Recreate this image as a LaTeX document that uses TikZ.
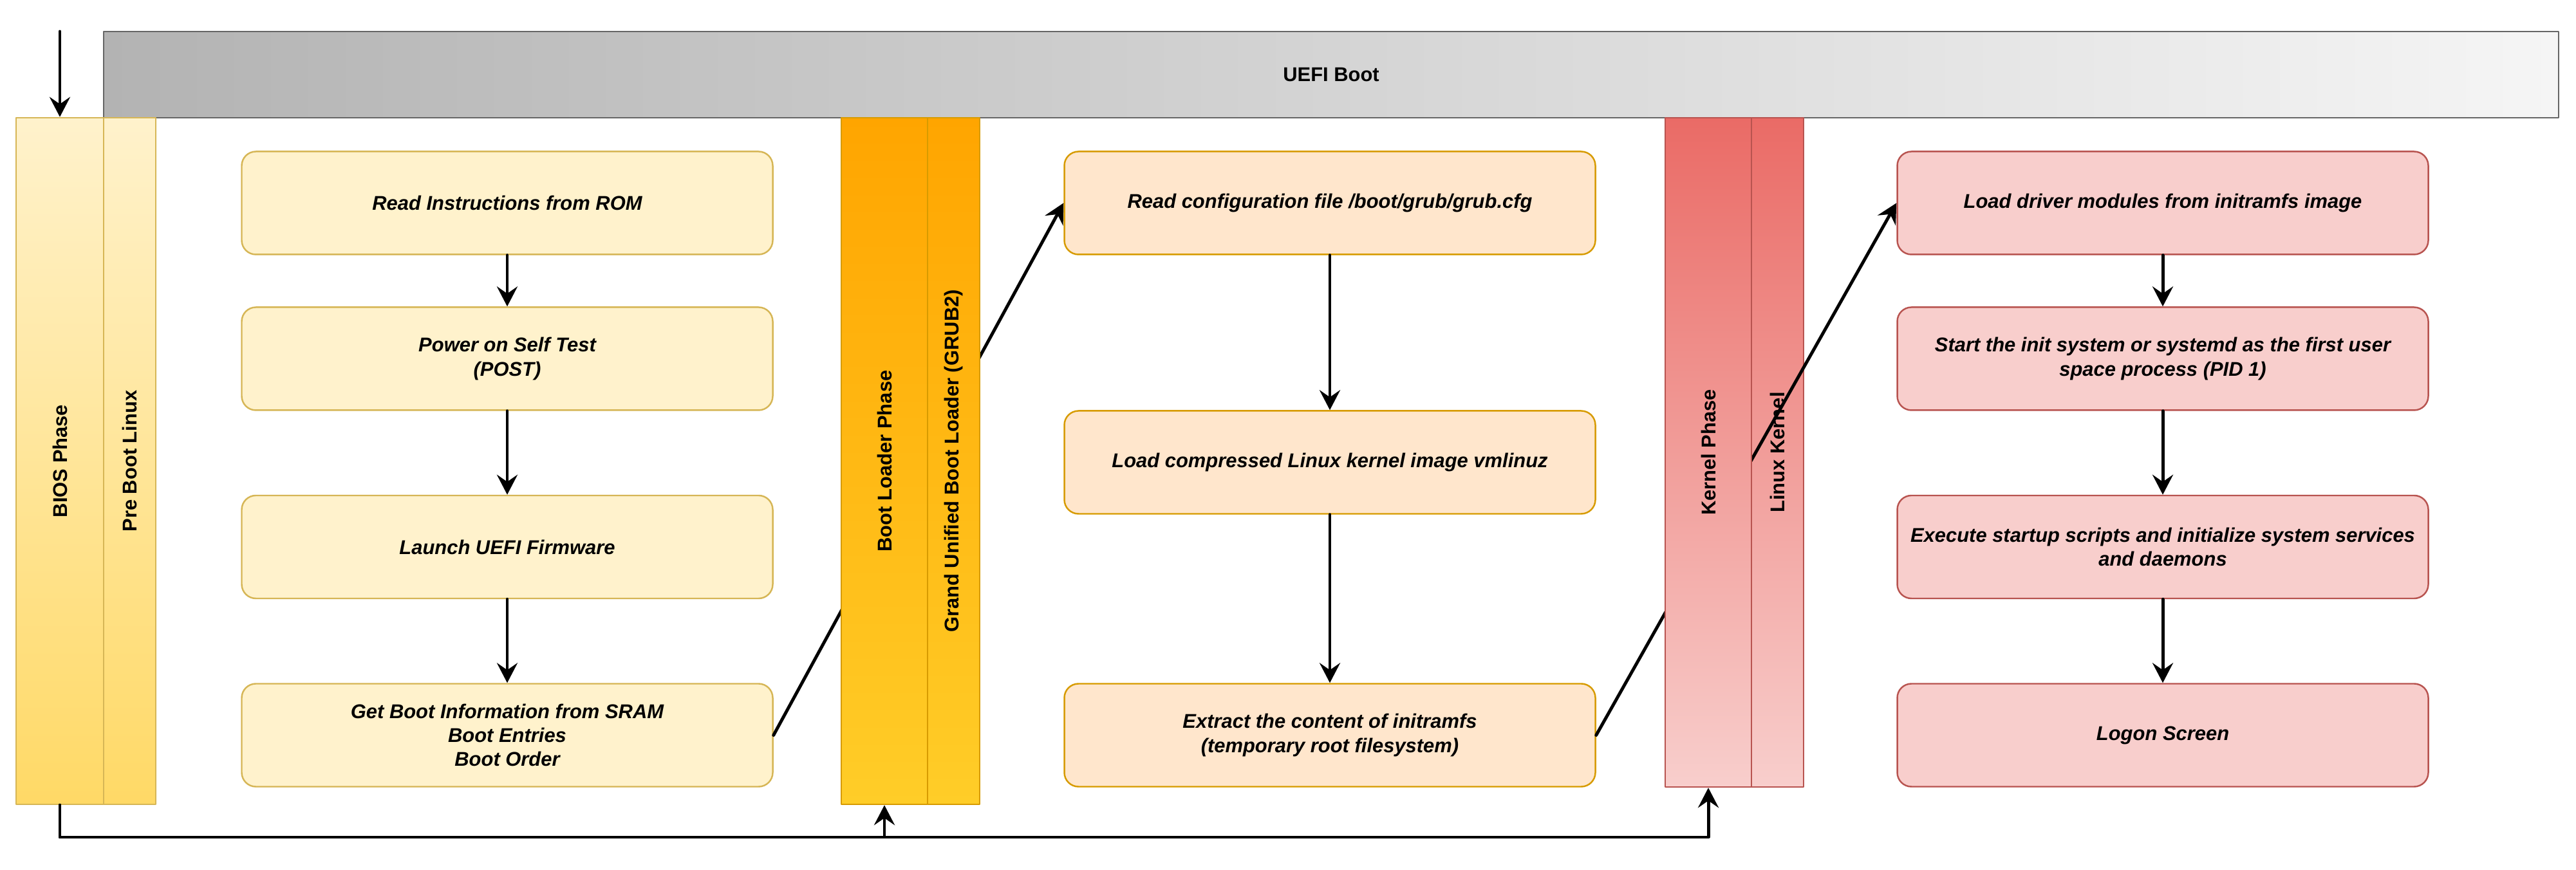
\documentclass[tikz,border=0pt]{standalone}
\usepackage{fontspec}
\setmainfont{Liberation Sans}
\usetikzlibrary{arrows.meta}

\definecolor{biosFill}{HTML}{FFF2CC}
\definecolor{biosLine}{HTML}{D6B656}
\definecolor{biosBot}{HTML}{FFD966}
\definecolor{grubFill}{HTML}{FFE6CC}
\definecolor{grubLine}{HTML}{D79B00}
\definecolor{grubTop}{HTML}{FFA500}
\definecolor{grubBot}{HTML}{FFCD28}
\definecolor{kernFill}{HTML}{F8CECC}
\definecolor{kernLine}{HTML}{B85450}
\definecolor{kernTop}{HTML}{EA6B66}
\definecolor{uefiLeft}{HTML}{B3B3B3}
\definecolor{uefiRight}{HTML}{F5F5F5}
\definecolor{uefiLine}{HTML}{666666}

\begin{document}
\begin{tikzpicture}[line cap=round,line join=round,>={Stealth[length=3.1mm,width=3.2mm,inset=1.1mm]},x=1.0cm,y=1.0cm,
  stepbox/.style={draw,rounded corners=2.2mm,line width=0.7pt,minimum width=8.25cm,minimum height=1.6cm,
    align=center,font=\fontsize{8.8}{10.6}\selectfont\bfseries\itshape},
  biosbox/.style={stepbox,fill=biosFill,draw=biosLine},
  grubbox/.style={stepbox,fill=grubFill,draw=grubLine},
  kernbox/.style={stepbox,fill=kernFill,draw=kernLine},
  lane/.style={draw,line width=0.7pt,inner sep=0pt,font=\fontsize{8.8}{10.6}\selectfont\bfseries},
  flow/.style={->,line width=1.4pt}]

\useasboundingbox (0,0) rectangle (40.02,13.52);

% UEFI bar on top
\node[lane,draw=uefiLine,left color=uefiLeft,right color=uefiRight,minimum width=38.14cm,minimum height=1.34cm] (uefi) at (20.68,12.36) {UEFI Boot};

% BIOS steps
\node[biosbox] (rom) at (7.88,10.365) {Read Instructions from ROM};
\node[biosbox] (post) at (7.88,7.945) {Power on Self Test\\(POST)};
\node[biosbox] (fw) at (7.88,5.02) {Launch UEFI Firmware};
\node[biosbox] (sram) at (7.88,2.095) {Get Boot Information from SRAM\\Boot Entries\\Boot Order};

% GRUB steps
\node[grubbox] (grubcfg) at (20.66,10.365) {Read configuration file /boot/grub/grub.cfg};
\node[grubbox] (vmlinuz) at (20.66,6.335) {Load compressed Linux kernel image vmlinuz};
\node[grubbox] (initrd) at (20.66,2.095) {Extract the content of initramfs\\(temporary root filesystem)};

% kernel steps
\node[kernbox] (drivers) at (33.60,10.365) {Load driver modules from initramfs image};
\node[kernbox] (initsys) at (33.60,7.945) {Start the init system or systemd as the first user\\space process (PID 1)};
\node[kernbox] (services) at (33.60,5.02) {Execute startup scripts and initialize system services\\and daemons};
\node[kernbox] (logon) at (33.60,2.095) {Logon Screen};

\draw[flow] (rom) -- (post);
\draw[flow] (post) -- (fw);
\draw[flow] (fw) -- (sram);
\draw[flow] (grubcfg) -- (vmlinuz);
\draw[flow] (vmlinuz) -- (initrd);
\draw[flow] (drivers) -- (initsys);
\draw[flow] (initsys) -- (services);
\draw[flow] (services) -- (logon);

\node[lane,draw=kernLine,top color=kernTop,bottom color=kernFill,minimum width=0.81cm,minimum height=10.40cm] (linuxk) at (27.615,6.49) {\rotatebox{90}{Linux Kernel}};

% phase to phase
\draw[flow] (sram.east) -- (grubcfg.west);
\draw[flow] (initrd.east) -- (drivers.west);

% phase lanes
\node[lane,draw=biosLine,top color=biosFill,bottom color=biosBot,minimum width=1.36cm,minimum height=10.67cm] (biosph) at (0.93,6.355) {\rotatebox{90}{BIOS Phase}};
\node[lane,draw=biosLine,top color=biosFill,bottom color=biosBot,minimum width=0.81cm,minimum height=10.67cm] (preboot) at (2.015,6.355) {\rotatebox{90}{Pre Boot Linux}};
\node[lane,draw=grubLine,top color=grubTop,bottom color=grubBot,minimum width=1.34cm,minimum height=10.67cm] (blph) at (13.74,6.355) {\rotatebox{90}{Boot Loader Phase}};
\node[lane,draw=grubLine,top color=grubTop,bottom color=grubBot,minimum width=0.81cm,minimum height=10.67cm] (grub) at (14.815,6.355) {\rotatebox{90}{Grand Unified Boot Loader (GRUB2)}};
\node[lane,draw=kernLine,top color=kernTop,bottom color=kernFill,minimum width=1.34cm,minimum height=10.40cm] (kernph) at (26.54,6.49) {\rotatebox{90}{Kernel Phase}};

% entry and bus
\coordinate (entry) at (0.93,13.03);
\coordinate (bus) at (0.93,0.51);
\draw[flow] (entry) -- (biosph.north);
\draw[flow] (biosph.south) -- (bus) -| (blph.south);
\draw[flow] (biosph.south) -- (bus) -| (kernph.south);

\end{tikzpicture}
\end{document}
